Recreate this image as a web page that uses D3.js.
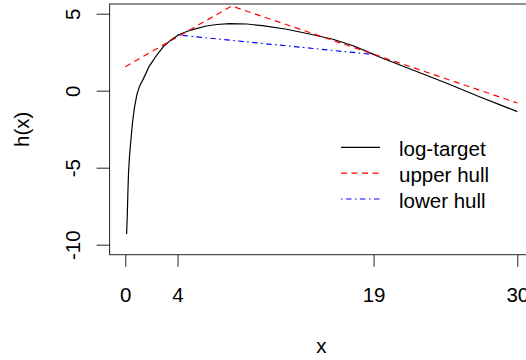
<!DOCTYPE html>
<html>
<head>
<meta charset="utf-8">
<script src="https://cdn.jsdelivr.net/npm/d3@7"></script>
<style>
  body { margin: 0; background: #fff; }
  svg { display: block; font-family: "Liberation Sans", Arial, sans-serif; }
</style>
</head>
<body>
<svg id="chart" width="526" height="360"></svg>
<script>
// values
const targetX = [0.1, 0.15, 0.2, 0.25, 0.32, 0.42, 0.55, 0.7, 0.9, 1.1, 1.4, 1.84, 2.4, 2.9, 3.5, 4.06,
    4.8, 5.5, 6.2, 7, 8, 9.3, 10.5, 12.35, 14, 15.9, 17.5, 19, 19.5, 22, 24.6, 27.1, 30];
const targetY = [-9.3, -8.2, -6.6, -5.3, -4.3, -3.3, -2.1, -1.1, -0.2, 0.3, 0.8, 1.6, 2.3, 2.85, 3.3, 3.62,
    3.88, 4.05, 4.2, 4.3, 4.35, 4.33, 4.22, 3.99, 3.7, 3.34, 2.9, 2.36, 2.17, 1.34, 0.48, -0.39, -1.36];
const upperX = [0, 8.14, 30];
const upperY = [1.56, 5.5, -0.8];
const lowerX = [4, 19];
const lowerY = [3.62, 2.35];

const xTicks = [0, 4, 19, 30];
const yTicks = [-10, -5, 0, 5];
const legendLabels = ["log-target", "upper hull", "lower hull"];

const zip = (xs, ys) => xs.map((x, i) => [x, ys[i]]);

// plot region (R style, box runs past the right edge of the window)
const plotLeft = 109.6, plotRight = 533, plotTop = 4, plotBottom = 254.7;
const fontSize = 20.5;

const svg = d3.select("#chart");

const x = d3.scaleLinear().domain([-1.2, 31.2]).range([plotLeft, plotRight]);
const y = d3.scaleLinear().domain([-10.65, 5.63]).range([plotBottom, plotTop]);

const line = d3.line().x(d => x(d[0])).y(d => y(d[1]));

// clip lines to plot box
svg.append("clipPath").attr("id", "clip")
    .append("rect")
    .attr("x", plotLeft).attr("y", plotTop)
    .attr("width", plotRight - plotLeft).attr("height", plotBottom - plotTop);

const plot = svg.append("g").attr("clip-path", "url(#clip)");

plot.append("path")
    .datum(zip(targetX, targetY))
    .attr("d", line)
    .attr("fill", "none")
    .attr("stroke", "#000")
    .attr("stroke-width", 1.2);

plot.append("path")
    .datum(zip(upperX, upperY))
    .attr("d", line)
    .attr("fill", "none")
    .attr("stroke", "#ff0000")
    .attr("stroke-width", 1.2)
    .attr("stroke-dasharray", "6,4.5");

plot.append("path")
    .datum(zip(lowerX, lowerY))
    .attr("d", line)
    .attr("fill", "none")
    .attr("stroke", "#0000ff")
    .attr("stroke-width", 1.2)
    .attr("stroke-dasharray", "1.5,3.5,5.5,3.5");

// box
svg.append("rect")
    .attr("x", plotLeft).attr("y", plotTop)
    .attr("width", plotRight - plotLeft).attr("height", plotBottom - plotTop)
    .attr("fill", "none")
    .attr("stroke", "#222")
    .attr("stroke-width", 1);

// x axis
const xAxis = svg.append("g")
    .attr("transform", `translate(0,${plotBottom})`)
    .call(d3.axisBottom(x).tickValues(xTicks).tickSize(12).tickFormat(d => String(d)));
xAxis.select(".domain").remove();
xAxis.selectAll(".tick line").attr("stroke", "#222");
xAxis.selectAll(".tick text")
    .attr("y", 47.6)
    .attr("dy", null)
    .attr("fill", "#000")
    .style("font-size", fontSize + "px")
    .style("font-family", "Liberation Sans, Arial, sans-serif");

// y axis with rotated labels (plain hyphen minus, like R)
const yAxis = svg.append("g")
    .attr("transform", `translate(${plotLeft},0)`)
    .call(d3.axisLeft(y).tickValues(yTicks).tickSize(13).tickFormat(d => String(d)));
yAxis.select(".domain").remove();
yAxis.selectAll(".tick line").attr("stroke", "#222");
yAxis.selectAll(".tick text")
    .attr("x", null).attr("dy", null)
    .attr("transform", "translate(-29.6,0) rotate(-90)")
    .attr("text-anchor", "middle")
    .attr("fill", "#000")
    .style("font-size", fontSize + "px")
    .style("font-family", "Liberation Sans, Arial, sans-serif");

// axis titles
svg.append("text")
    .attr("x", (plotLeft + plotRight) / 2)
    .attr("y", 353)
    .attr("text-anchor", "middle")
    .style("font-size", fontSize + "px")
    .text("x");

svg.append("text")
    .attr("transform", `translate(29,${(plotTop + plotBottom) / 2}) rotate(-90)`)
    .attr("text-anchor", "middle")
    .style("font-size", fontSize + "px")
    .text("h(x)");

// legend
const legendStyles = [
    { color: "#000", dash: null },
    { color: "#ff0000", dash: "6,4.5" },
    { color: "#0000ff", dash: "1.5,3.5,5.5,3.5" }
];
const legendY = d3.scalePoint().domain(legendLabels).range([147.3, 199]);

const legend = svg.append("g");
legend.selectAll("line")
    .data(legendLabels)
    .enter().append("line")
    .attr("x1", 341).attr("x2", 380)
    .attr("y1", d => legendY(d)).attr("y2", d => legendY(d))
    .attr("stroke", (d, i) => legendStyles[i].color)
    .attr("stroke-width", 1.2)
    .attr("stroke-dasharray", (d, i) => legendStyles[i].dash);

legend.selectAll("text")
    .data(legendLabels)
    .enter().append("text")
    .attr("x", 399)
    .attr("y", d => legendY(d) + 8.5)
    .style("font-size", fontSize + "px")
    .text(d => d);
</script>
</body>
</html>
